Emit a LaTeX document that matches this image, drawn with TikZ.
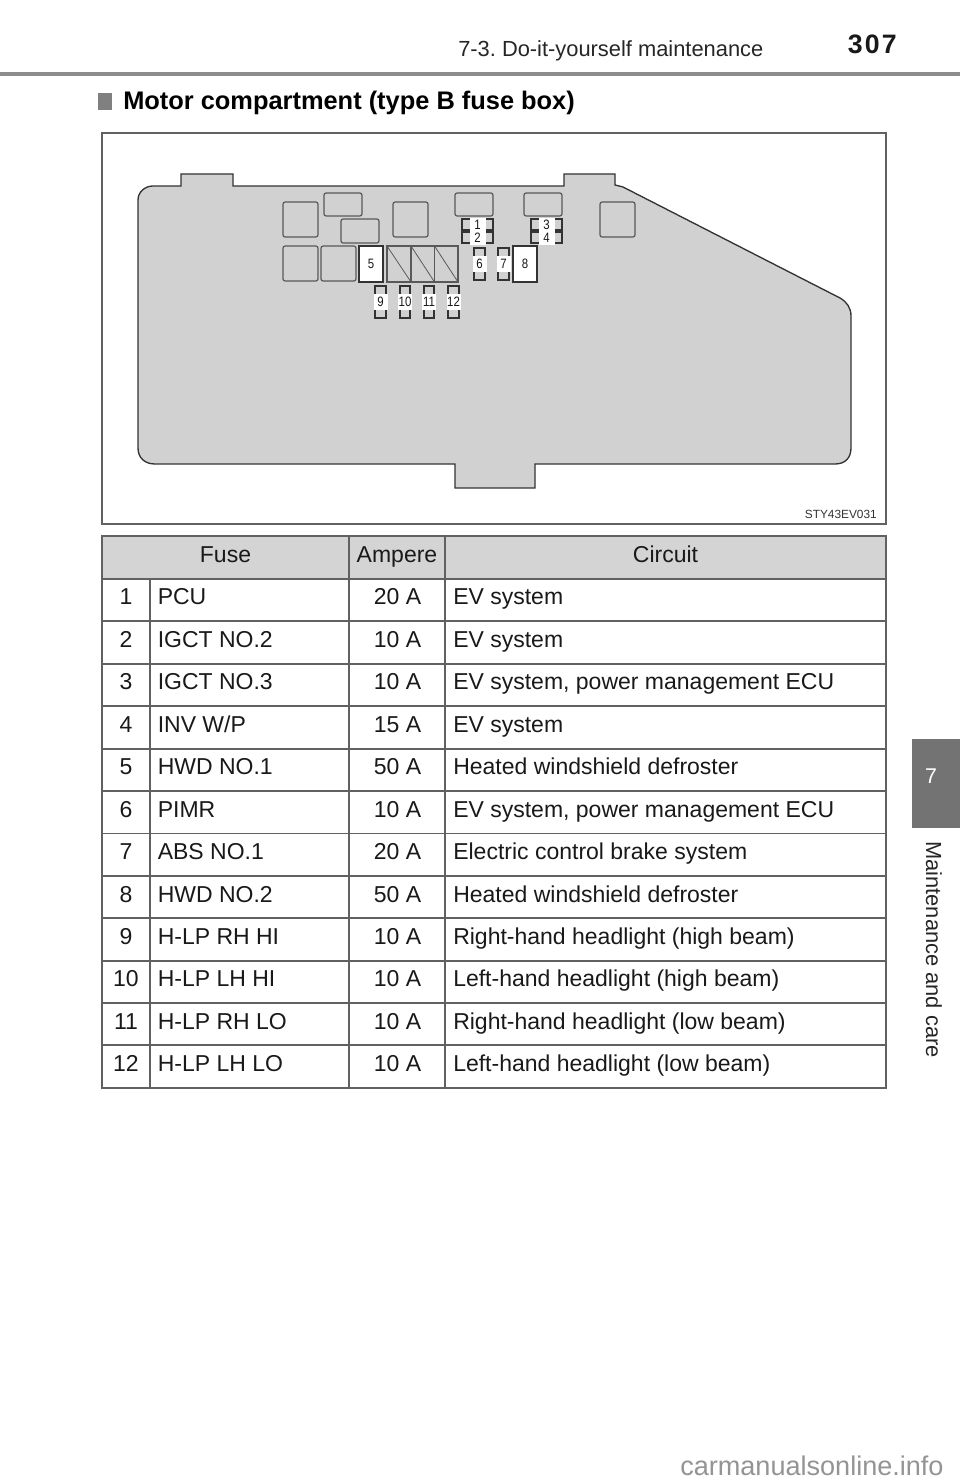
\documentclass[tikz,border=0pt]{standalone}
\usepackage{fontspec}
\setmainfont{Liberation Sans}
\frenchspacing
\newcommand{\fsz}[1]{\fontsize{#1}{#1}\selectfont}
\newfontfamily\fusefont[FakeStretch=0.84]{Liberation Sans}
\tikzset{
 x=0.75pt,y=-0.75pt,
 txt/.style={inner sep=0pt,font=\fsz{17.25},text=black!90},
 relaybox/.style={draw=black!65,line width=0.9pt,rounded corners=1.6pt},
 whitebox/.style={draw=black!80,line width=1.25pt,fill=white},
 hatchbox/.style={draw=black!65,line width=0.9pt},
 clip fuse/.style={draw=black!80,line width=1.2pt},
 fnum/.style={fill=white,inner sep=0pt,font=\fusefont\fsz{10.2},text=black!90},
 rule/.style={draw=black!62,line width=0.8pt},
}
\begin{document}
\begin{tikzpicture}
\useasboundingbox (0,0) rectangle (960,1484);
\fill[white] (0,0) rectangle (960,1484);
% header
\node[txt,anchor=base west,font=\fsz{16.4},text=black!85] (hdr) at (458,57) {7-3. Do-it-yourself maintenance};
\node[txt,anchor=base east,font=\fsz{20}\bfseries\addfontfeature{LetterSpace=8},text=black!90] (pg) at (897,54) {307};
\fill[black!45] (0,72) rectangle (960,76);
\fill[black!50] (98,93) rectangle (112,110);
\node[txt,anchor=base west,font=\fsz{19.05}\bfseries,text=black] (ttl) at (123,110) {Motor compartment (type B fuse box)};
% figure frame
\draw[rule] (102,133) rectangle (886,524);
\filldraw[fill=black!18,draw=black!80,line width=1pt]
 (153,186) -- (181,186) -- (181,174) -- (233,174) -- (233,186) -- (564,186) -- (564,174) -- (615,174) -- (615,185) -- (623,187)
 -- (840,298) .. controls (847,302) and (851,308) .. (851,316) -- (851,448) .. controls (851,458) and (845,464) .. (835,464)
 -- (535,464) -- (535,488) -- (455,488) -- (455,464) -- (155,464) .. controls (145,464) and (138,458) .. (138,448)
 -- (138,200) .. controls (138,192) and (145,186) .. (153,186) -- cycle;
% relays
\foreach \n/\a/\b/\c/\d in {ra/283/202/318/237,rb/324/193/362/216,rc/341/219/379/243,rd/393/202/428/237,re/455/193/493/216,rf/524/193/562/216,rg/600/202/635/237,rh/283/246/318/281,ri/321/246/356/281}
  \draw[relaybox] (\a,\b) rectangle (\c,\d);
% large white fuses
\draw[whitebox] (359,246) rectangle (383,282);
\node[fnum,fill=none] (n5) at (371,264) {5};
\draw[whitebox] (513,246) rectangle (537,282);
\node[fnum,fill=none] (n8) at (525,264) {8};
% hatched
\foreach \a/\c in {387/411,411/434.5,434.5/458}{
  \draw[hatchbox] (\a,246) rectangle (\c,282);
  \draw[black!65,line width=0.6pt] (\a,246) -- (\c,282);
}
% vertical small fuses
\foreach \t/\a/\b/\c/\d in {6/474/248/485/280,7/498/248/509/280,9/375/286/386/318,10/400/286/410/318,11/424/286/434/318,12/448/286/459/318}{
  \draw[clip fuse] (\a,\b) rectangle (\c,\d);
  \node[fnum,minimum height=12.5pt,minimum width=10.5pt] (f\t) at ({(\a+\c)/2},{(\b+\d)/2}) {\t};
}
% horizontal small fuses
\foreach \t/\a/\b/\c/\d in {1/462/219/493/230,2/462/232/493/243,3/531/219/562/230,4/531/232/562/243}{
  \draw[clip fuse] (\a,\b) rectangle (\c,\d);
  \node[fnum,minimum width=12pt,minimum height=10.5pt] (f\t) at ({(\a+\c)/2},{(\b+\d)/2}) {\t};
}
\node[txt,anchor=base east,font=\fsz{8.9},text=black!80] (code) at (877,518) {STY43EV031};
% table
\fill[black!17] (102,536) rectangle (886,579);
\draw[rule] (102,536) rectangle (886,1088);
\foreach \y in {579,621,664,706,749,791,833.5,876,918,961,1003,1045}
  \draw[rule] (102,\y) -- (886,\y);
\draw[rule] (349,536) -- (349,1088);
\draw[rule] (445,536) -- (445,1088);
\draw[rule] (150,579) -- (150,1088);
\node[txt,anchor=base] (hf) at (225.5,562) {Fuse};
\node[txt,anchor=base] (ha) at (397,562) {Ampere};
\node[txt,anchor=base] (hc) at (665.5,562) {Circuit};
\foreach \i/\y/\f/\a/\c in {
1/604/PCU/20 A/EV system,
2/647/IGCT NO.2/10 A/EV system,
3/689/{IGCT NO.3}/10 A/{EV system, power management ECU},
4/732/INV W\slash P/15 A/EV system,
5/774/HWD NO.1/50 A/Heated windshield defroster,
6/817/PIMR/10 A/{EV system, power management ECU},
7/859/ABS NO.1/20 A/Electric control brake system,
8/902/HWD NO.2/50 A/Heated windshield defroster,
9/944/H-LP RH HI/10 A/Right-hand headlight (high beam),
10/986/H-LP LH HI/10 A/Left-hand headlight (high beam),
11/1029/H-LP RH LO/10 A/Right-hand headlight (low beam),
12/1071/H-LP LH LO/10 A/Left-hand headlight (low beam)}{
  \node[txt,anchor=base] (i\i) at (126,\y) {\i};
  \node[txt,anchor=base west] (n\i) at (157.5,\y) {\f};
  \node[txt,anchor=base] (a\i) at (397.5,\y) {\a};
  \node[txt,anchor=base west] (c\i) at (453,\y) {\c};
}
% side tab
\fill[black!55] (912,739) rectangle (960,828);
\node[txt,text=white,font=\fsz{16}] (tab) at (931,776) {7};
\node[txt,rotate=-90,anchor=base west,font=\fsz{16.4},text=black!85] (side) at (926,841) {Maintenance and care};
% watermark
\node[txt,anchor=base west,font=\fsz{20.3},text=black!42] (wm) at (680,1475) {carmanualsonline.info};
\end{tikzpicture}
\end{document}
